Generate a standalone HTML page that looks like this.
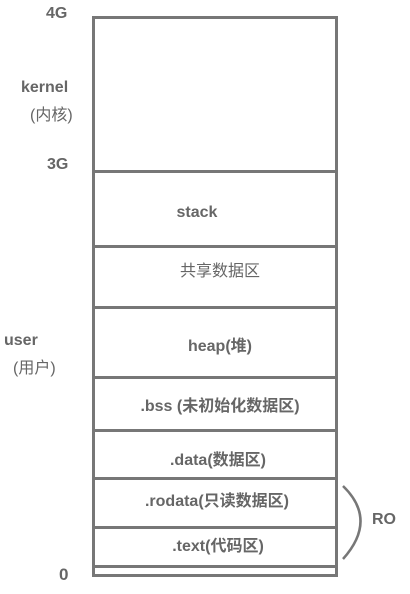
<!DOCTYPE html>
<html><head><meta charset="utf-8"><style>
body{margin:0;width:410px;height:594px;background:#fff;position:relative;overflow:hidden;font-family:"Liberation Sans","Noto Sans CJK SC",sans-serif;color:#666;font-weight:bold;font-size:16px}
.h{position:absolute;left:92px;width:246px;height:3px;background:#777}
.v{position:absolute;top:16px;width:3px;height:561px;background:#777}
.t{position:absolute;white-space:nowrap;line-height:18px}
.c{left:93px;width:244px;text-align:center}
.n{font-weight:normal}
</style></head><body>
<div class="v" style="left:92px"></div>
<div class="v" style="left:335px"></div>
<div class="h" style="top:16px"></div>
<div class="h" style="top:170px"></div>
<div class="h" style="top:245px"></div>
<div class="h" style="top:306px"></div>
<div class="h" style="top:376px"></div>
<div class="h" style="top:429px"></div>
<div class="h" style="top:477px"></div>
<div class="h" style="top:526px"></div>
<div class="h" style="top:565px"></div>
<div class="h" style="top:574px"></div>
<div class="t" style="left:46px;top:5px">4G</div>
<div class="t" style="left:21px;top:79px">kernel</div>
<div class="t n" style="left:30px;top:107px">(内核)</div>
<div class="t" style="left:47px;top:156px">3G</div>
<div class="t" style="left:4px;top:332px">user</div>
<div class="t n" style="left:13px;top:360px">(用户)</div>
<div class="t" style="left:59px;top:566px;font-size:17px">0</div>
<div class="t" style="left:372px;top:511px">RO</div>
<div class="t c" style="top:204px;left:75px">stack</div>
<div class="t c n" style="top:263px;left:98px">共享数据区</div>
<div class="t c" style="top:338px;left:98px">heap(堆)</div>
<div class="t c" style="top:398px;left:98px">.bss (未初始化数据区)</div>
<div class="t c" style="top:452px;left:96px">.data(数据区)</div>
<div class="t c" style="top:493px;left:95px">.rodata(只读数据区)</div>
<div class="t c" style="top:538px;left:96px">.text(代码区)</div>
<svg style="position:absolute;left:0;top:0" width="410" height="594"><path d="M343 486 Q378 520 343 559" stroke="#777" stroke-width="2.5" fill="none"/></svg>
</body></html>
